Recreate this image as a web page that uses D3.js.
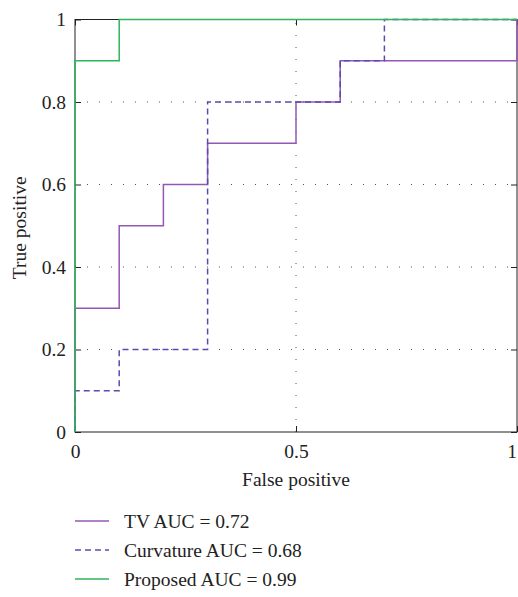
<!DOCTYPE html>
<html>
<head>
<meta charset="utf-8">
<script src="https://cdn.jsdelivr.net/npm/d3@7"></script>
<style>
  body { margin: 0; background: #fff; }
  svg { display: block; }
</style>
</head>
<body>
<script>
// ROC curves, step-wise (false positive, true positive) pairs
const tvFpr = [0, 0, 0.1, 0.1, 0.2, 0.2, 0.3, 0.3, 0.5, 0.5, 0.6, 0.6, 1, 1];
const tvTpr = [0, 0.3, 0.3, 0.5, 0.5, 0.6, 0.6, 0.7, 0.7, 0.8, 0.8, 0.9, 0.9, 1];

const curvFpr = [0, 0, 0.1, 0.1, 0.3, 0.3, 0.6, 0.6, 0.7, 0.7, 1];
const curvTpr = [0, 0.1, 0.1, 0.2, 0.2, 0.8, 0.8, 0.9, 0.9, 1, 1];

const propFpr = [0, 0, 0.1, 0.1, 1];
const propTpr = [0, 0.9, 0.9, 1, 1];

const seriesNames = ['TV AUC = 0.72', 'Curvature AUC = 0.68', 'Proposed AUC = 0.99'];
const xTicks = [0, 0.5, 1];
const yTicks = [0, 0.2, 0.4, 0.6, 0.8, 1];

const W = 518, H = 597;
const font = '"Liberation Serif", "DejaVu Serif", serif';
const fs = 19.5;

const svg = d3.select('body').append('svg')
  .attr('width', W)
  .attr('height', H);

const x = d3.scaleLinear().domain([0, 1]).range([75, 517]);
const y = d3.scaleLinear().domain([0, 1]).range([432, 19.5]);

// dotted grid lines (inner ticks only)
const grid = svg.append('g').attr('class', 'grid')
  .attr('stroke', '#555')
  .attr('stroke-width', 1)
  .attr('stroke-dasharray', '1,11');
grid.selectAll('line.h')
  .data(yTicks.filter(d => d > 0 && d < 1))
  .join('line')
  .attr('class', 'h')
  .attr('x1', x(0)).attr('x2', x(1))
  .attr('y1', d => y(d)).attr('y2', d => y(d));
grid.selectAll('line.v')
  .data(xTicks.filter(d => d > 0 && d < 1))
  .join('line')
  .attr('class', 'v')
  .attr('x1', d => x(d)).attr('x2', d => x(d))
  .attr('y1', y(0)).attr('y2', y(1));

// box
svg.append('rect')
  .attr('x', x(0)).attr('y', y(1))
  .attr('width', x(1) - x(0)).attr('height', y(0) - y(1))
  .attr('fill', 'none')
  .attr('stroke', '#222')
  .attr('stroke-width', 1);

// axes with ticks inside, mirrored on top and right
const axLeft = d3.axisLeft(y).tickValues(yTicks).tickSize(-6).tickPadding(9).tickFormat(d3.format('~g'));
const axBottom = d3.axisBottom(x).tickValues(xTicks).tickSize(-6).tickPadding(12).tickFormat(d3.format('~g'));
const axRight = d3.axisRight(y).tickValues(yTicks).tickSize(-6).tickFormat('');
const axTop = d3.axisTop(x).tickValues(xTicks).tickSize(-6).tickFormat('');

function styleAxis(g) {
  g.select('.domain').remove();
  g.selectAll('line').attr('stroke', '#222');
  g.selectAll('text')
    .attr('font-family', font)
    .attr('font-size', fs)
    .attr('fill', '#222');
}

svg.append('g').attr('transform', `translate(${x(0)},0)`).call(axLeft).call(styleAxis);
const gBottom = svg.append('g').attr('transform', `translate(0,${y(0)})`).call(axBottom).call(styleAxis);
svg.append('g').attr('transform', `translate(${x(1)},0)`).call(axRight).call(styleAxis);
svg.append('g').attr('transform', `translate(0,${y(1)})`).call(axTop).call(styleAxis);

// last x label sits at the window edge; pull it inside
gBottom.selectAll('.tick text')
  .filter(d => d === 1)
  .attr('text-anchor', 'end')
  .attr('dx', -0.5);

// curves
const series = [
  { fpr: tvFpr, tpr: tvTpr, color: '#9457b3', dash: null },
  { fpr: curvFpr, tpr: curvTpr, color: '#5a4bb0', dash: '6,4' },
  { fpr: propFpr, tpr: propTpr, color: '#2fb55a', dash: null }
];

const line = d3.line()
  .x(d => x(d[0]))
  .y(d => y(d[1]));

svg.append('g').attr('class', 'curves')
  .selectAll('path')
  .data(series)
  .join('path')
  .attr('d', s => line(s.fpr.map((f, i) => [f, s.tpr[i]])))
  .attr('fill', 'none')
  .attr('stroke', s => s.color)
  .attr('stroke-width', 1.5)
  .attr('stroke-dasharray', s => s.dash);

// axis labels
svg.append('text')
  .attr('x', x(0.5))
  .attr('y', 486)
  .attr('text-anchor', 'middle')
  .attr('font-family', font)
  .attr('font-size', fs)
  .attr('fill', '#222')
  .text('False positive');

svg.append('text')
  .attr('transform', `translate(26,${y(0.5) + 2}) rotate(-90)`)
  .attr('text-anchor', 'middle')
  .attr('font-family', font)
  .attr('font-size', fs)
  .attr('fill', '#222')
  .text('True positive');

// legend
const legend = svg.append('g').attr('class', 'legend');
const legendY = d3.scaleLinear().domain([0, 2]).range([521, 579]);
const items = legend.selectAll('g')
  .data(series)
  .join('g')
  .attr('transform', (d, i) => `translate(0,${legendY(i)})`);
items.append('line')
  .attr('x1', 75).attr('x2', 109)
  .attr('stroke', d => d.color)
  .attr('stroke-width', 1.5)
  .attr('stroke-dasharray', d => d.dash);
items.append('text')
  .attr('x', 124)
  .attr('dy', '0.35em')
  .attr('font-family', font)
  .attr('font-size', fs)
  .attr('fill', '#222')
  .text((d, i) => seriesNames[i]);
</script>
</body>
</html>
